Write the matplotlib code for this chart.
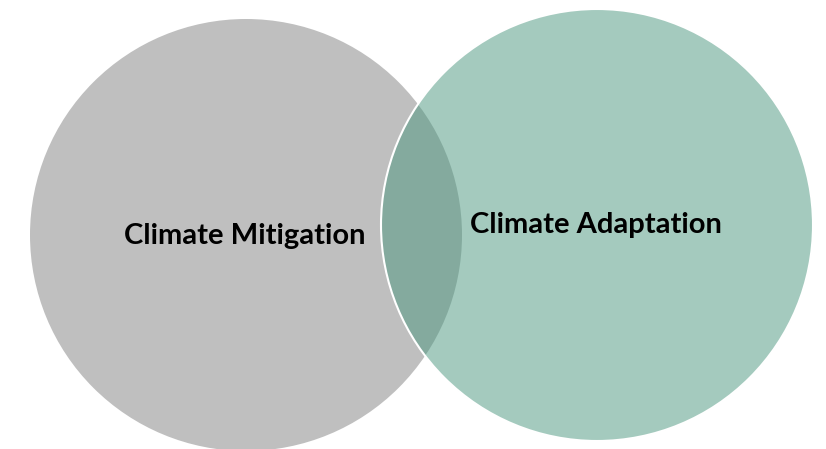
import matplotlib
matplotlib.use("Agg")
import matplotlib.pyplot as plt
from matplotlib.patches import Circle

labels = ["Climate Mitigation", "Climate Adaptation"]
centers_x = [246, 597]
centers_y = [235, 225]
radii = [216, 216]
fill_colors = ["#bfbfbf", "#4a977f"]
alphas = [1.0, 0.5]
label_x = [245, 596]
label_y = [236, 225]

fig = plt.figure(figsize=(8.26, 4.49), dpi=100)
ax = fig.add_axes([0, 0, 1, 1])
ax.set_xlim(0, 826)
ax.set_ylim(449, 0)
ax.set_aspect("equal")
ax.axis("off")

# left circle
ax.add_patch(Circle((centers_x[0], centers_y[0]), radii[0], facecolor=fill_colors[0],
                    edgecolor="none", alpha=alphas[0], zorder=1))
# right circle (semi-transparent to form darker overlap)
ax.add_patch(Circle((centers_x[1], centers_y[1]), radii[1], facecolor=fill_colors[1],
                    edgecolor="none", alpha=alphas[1], zorder=2))
ax.add_patch(Circle((centers_x[1], centers_y[1]), radii[1], facecolor="none",
                    edgecolor="white", lw=1.5, zorder=3))

for t, x, y in zip(labels, label_x, label_y):
    ax.text(x, y, t, ha="center", va="center", fontsize=21, fontweight="bold",
            family=["Lato", "DejaVu Sans"], color="black", zorder=4)

fig.savefig("out.png", dpi=100)
